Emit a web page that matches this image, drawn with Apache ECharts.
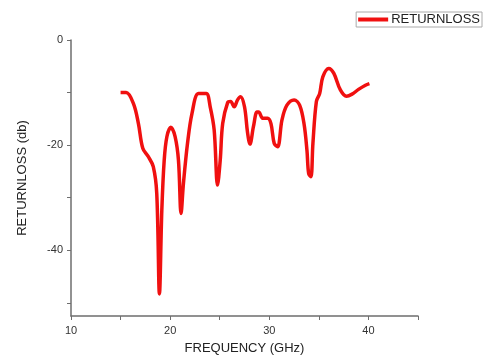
<!DOCTYPE html>
<html>
<head>
<meta charset="utf-8">
<script src="https://cdn.jsdelivr.net/npm/echarts@6/dist/echarts.min.js"></script>
<style>
  html, body { margin: 0; padding: 0; background: #fff; }
  #chart { width: 484px; height: 356px; }
</style>
</head>
<body>
<div id="chart"></div>
<script>
// frequency (GHz) and return loss (dB)
const freq = [15, 15.56, 16.3, 16.8, 17.24, 17.8, 18.3, 18.65, 18.92, 19.16, 19.4, 19.67, 20.07, 20.5, 20.84, 21.1, 21.34, 21.75, 22.2, 22.86, 23.64, 24.04, 24.44, 24.78, 25.05, 25.3, 25.8, 26.1, 26.46, 26.8, 27.1, 27.5, 27.8, 28.05, 28.4, 28.76, 28.92, 29.36, 29.83, 30.17, 30.5, 30.84, 31.28, 31.78, 32.5, 33.06, 33.5, 33.8, 33.97, 34.2, 34.4, 34.75, 35.08, 35.4, 36.0, 36.5, 37.17, 37.78, 38.35, 39.0, 39.7, 40.1];
const returnLoss = [-10, -10, -12.1, -15.9, -20.6, -22.2, -24.1, -29.2, -48.3, -32.4, -22.9, -18.4, -16.6, -18.4, -22.9, -33.0, -27.3, -19.7, -14.0, -10.2, -10.2, -12.7, -17.1, -27.6, -22.9, -15.9, -11.9, -11.7, -12.7, -11.4, -10.8, -12.7, -17.5, -19.8, -16.5, -13.7, -13.7, -14.9, -14.9, -15.9, -19.7, -20.3, -15.2, -12.4, -11.4, -12.4, -15.9, -21.0, -25.4, -26.0, -19.7, -11.7, -10.2, -7.0, -5.4, -6.3, -9.5, -10.7, -10.3, -9.4, -8.6, -8.3];
const yTicks = [0, -10, -20, -30, -40, -50];
const yLabels = [0, -20, -40];

const chart = echarts.init(document.getElementById("chart"));
const axisGray = "#6e6e6e";

chart.setOption({
  animation: false,
  textStyle: { fontFamily: "Liberation Sans, Arial, sans-serif" },
  legend: {
    right: 2,
    top: 12,
    padding: [1, 2, 1, 2],
    borderColor: "#aaa",
    borderWidth: 1,
    itemWidth: 30,
    itemHeight: 4,
    itemGap: 4,
    icon: "rect",
    textStyle: { fontSize: 13, color: "#222", padding: [0, 0, 0, -2] },
    data: ["RETURNLOSS"],
  },
  grid: { left: 71, top: 40, right: 66, bottom: 40, containLabel: false, outerBoundsMode: "none" },
  xAxis: {
    type: "value",
    min: 10,
    max: 45,
    interval: 5,
    name: "FREQUENCY (GHz)",
    nameLocation: "middle",
    nameGap: 26,
    nameTextStyle: { fontSize: 13, color: "#222" },
    splitLine: { show: false },
    axisLine: { onZero: false, lineStyle: { color: axisGray, width: 1.5 } },
    axisTick: { length: 4, lineStyle: { color: axisGray } },
    axisLabel: {
      fontSize: 11,
      color: "#333",
      margin: 9,
      formatter: (v) => (v % 10 === 0 ? String(v) : ""),
    },
  },
  yAxis: {
    type: "value",
    min: -52.5,
    max: 0,
    name: "RETURNLOSS (db)",
    nameLocation: "middle",
    nameGap: 42,
    nameTextStyle: { fontSize: 13, color: "#222" },
    splitLine: { show: false },
    axisLine: { show: true, onZero: false, lineStyle: { color: axisGray, width: 1.5 } },
    axisTick: { show: true, length: 4, customValues: yTicks, lineStyle: { color: axisGray } },
    axisLabel: { fontSize: 11, color: "#333", margin: 8, customValues: yLabels },
  },
  series: [
    {
      name: "RETURNLOSS",
      type: "line",
      data: freq.map((f, i) => [f, returnLoss[i]]),
      smooth: 0.35,
      showSymbol: false,
      symbol: "none",
      lineStyle: { color: "#f01010", width: 3.5 },
      itemStyle: { color: "#f01010" },
    },
  ],
});
</script>
</body>
</html>
